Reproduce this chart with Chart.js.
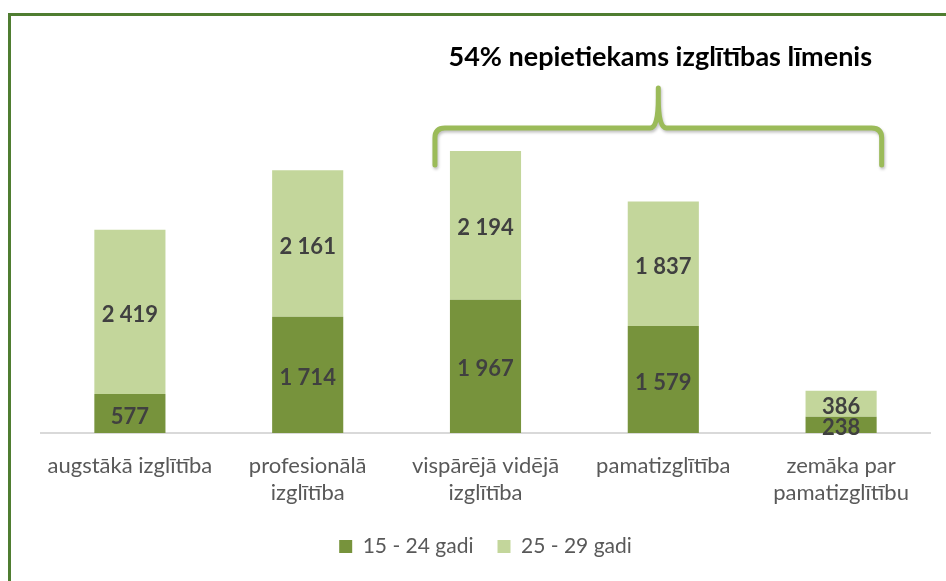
<!DOCTYPE html>
<html>
<head>
<meta charset="utf-8">
<script src="https://cdn.jsdelivr.net/npm/chart.js@4.4.0/dist/chart.umd.min.js"></script>
<style>
    html, body { margin: 0; padding: 0; background: #fff; }
    .frame {
        position: absolute;
        left: 8px;
        top: 13px;
        width: 960px;
        height: 600px;
        border-left: 3px solid #4f7d31;
        border-top: 3px solid #4f7d31;
    }
    #wrap { position: absolute; left: 0; top: 0; width: 946px; height: 581px; }
</style>
</head>
<body>
<div class="frame"></div>
<div id="wrap"><canvas id="chart" width="946" height="581"></canvas></div>
<script>
// ────────────────────────────────────────────────
// Data
// ────────────────────────────────────────────────
const categories = [
    ['augstākā izglītība'],
    ['profesionālā', 'izglītība'],
    ['vispārējā vidējā', 'izglītība'],
    ['pamatizglītība'],
    ['zemāka par', 'pamatizglītību']
];
const seriesNames = ['15 - 24 gadi', '25 - 29 gadi'];
const young = [577, 1714, 1967, 1579, 238];
const older = [2419, 2161, 2194, 1837, 386];
const bracketTitle = '54% nepietiekams izglītības līmenis';

const FONT = 'Lato, "Open Sans", sans-serif';

// number with space as thousands separator
function fmt(v) {
    return String(v).replace(/\B(?=(\d{3})+(?!\d))/g, ' ');
}

// value labels inside each segment
const valueLabels = {
    id: 'valueLabels',
    afterDatasetsDraw(chart) {
        const ctx = chart.ctx;
        ctx.save();
        ctx.font = 'bold 22px ' + FONT;
        ctx.fillStyle = '#404040';
        ctx.textAlign = 'center';
        ctx.textBaseline = 'middle';
        chart.data.datasets.forEach((ds, i) => {
            chart.getDatasetMeta(i).data.forEach((bar, j) => {
                const y = (bar.y + bar.base) / 2;
                ctx.fillText(fmt(ds.data[j]), bar.x, y + 3);
            });
        });
        ctx.restore();
    }
};

// curly bracket over the last three categories + caption
const bracket = {
    id: 'bracket',
    afterDraw(chart) {
        const ctx = chart.ctx;
        const bars = chart.getDatasetMeta(1).data;
        const left = bars[2].x - bars[2].width / 2 - 15;
        const right = bars[4].x + bars[4].width / 2 + 5;
        const mid = (left + right) / 2;
        const top = 128, bottom = 165, tip = 88, r = 10;

        ctx.save();
        ctx.strokeStyle = '#9bbb59';
        ctx.lineWidth = 5;
        ctx.lineCap = 'round';
        ctx.lineJoin = 'round';
        ctx.shadowColor = 'rgba(0,0,0,0.25)';
        ctx.shadowOffsetX = 1;
        ctx.shadowOffsetY = 2;
        ctx.shadowBlur = 3;
        ctx.beginPath();
        ctx.moveTo(left, bottom);
        ctx.lineTo(left, top + r);
        ctx.quadraticCurveTo(left, top, left + r, top);
        ctx.lineTo(mid - 8, top);
        ctx.quadraticCurveTo(mid, top, mid, tip + 10);
        ctx.lineTo(mid, tip);
        ctx.moveTo(mid, tip + 10);
        ctx.quadraticCurveTo(mid, top, mid + 8, top);
        ctx.lineTo(right - r, top);
        ctx.quadraticCurveTo(right, top, right, top + r);
        ctx.lineTo(right, bottom);
        ctx.stroke();
        ctx.restore();

        ctx.save();
        ctx.font = 'bold 27px ' + FONT;
        ctx.fillStyle = '#000';
        ctx.textAlign = 'center';
        ctx.textBaseline = 'middle';
        ctx.fillText(bracketTitle, mid + 2, 57);
        ctx.restore();
    }
};

new Chart(document.getElementById('chart'), {
    type: 'bar',
    data: {
        labels: categories,
        datasets: [
            {
                label: seriesNames[0],
                data: young,
                backgroundColor: '#77933c'
            },
            {
                label: seriesNames[1],
                data: older,
                backgroundColor: '#c3d69b'
            }
        ]
    },
    options: {
        responsive: false,
        animation: false,
        layout: { padding: { left: 41, right: 16, top: 94, bottom: 14 } },
        datasets: {
            bar: { categoryPercentage: 0.8, barPercentage: 0.5 }
        },
        plugins: {
            legend: {
                position: 'bottom',
                labels: {
                    boxWidth: 13,
                    boxHeight: 13,
                    padding: 24,
                    color: '#595959',
                    font: { family: FONT, size: 21 }
                }
            },
            tooltip: { enabled: false }
        },
        scales: {
            x: {
                stacked: true,
                grid: { display: false },
                border: { color: '#d9d9d9', width: 2 },
                ticks: {
                    color: '#595959',
                    font: { family: FONT, size: 22 },
                    maxRotation: 0,
                    padding: 12
                },
                afterFit(scale) {
                    scale.height = 79;
                }
            },
            y: {
                stacked: true,
                display: false,
                min: 0,
                max: 5000
            }
        }
    },
    plugins: [valueLabels, bracket]
});
</script>
</body>
</html>
